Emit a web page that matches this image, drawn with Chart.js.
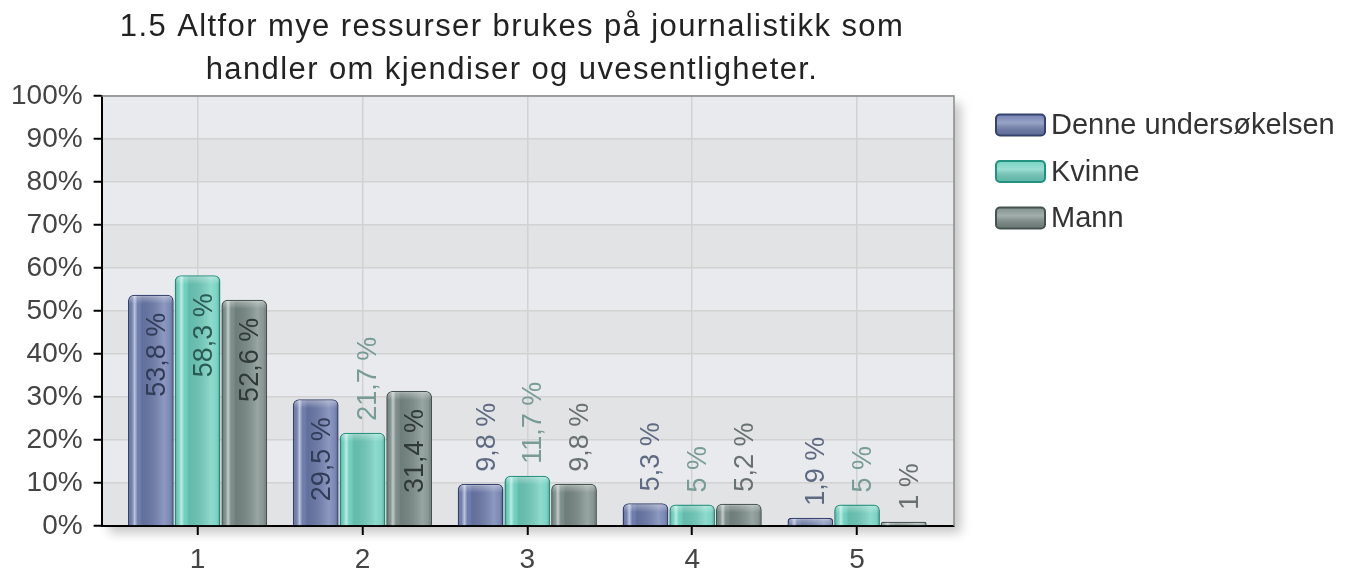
<!DOCTYPE html>
<html><head><meta charset="utf-8">
<script src="https://cdn.jsdelivr.net/npm/chart.js@4.4.1/dist/chart.umd.min.js"></script>
<style>html,body{margin:0;padding:0;background:#fff;overflow:hidden}#wrap{width:1356px;height:575px;position:relative}</style>
</head><body><div id="wrap"><canvas id="c" width="1356" height="575"></canvas></div>
<script>
// ---- data ----
const titleLines = ['1.5 Altfor mye ressurser brukes på journalistikk som', 'handler om kjendiser og uvesentligheter.'];
const categories = ['1', '2', '3', '4', '5'];
const seriesNames = ['Denne undersøkelsen', 'Kvinne', 'Mann'];
const denneUndersokelsen = [53.8, 29.5, 9.8, 5.3, 1.9];
const kvinne = [58.3, 21.7, 11.7, 5, 5];
const mann = [52.6, 31.4, 9.8, 5.2, 1];
const yTickValues = [0, 10, 20, 30, 40, 50, 60, 70, 80, 90, 100];

// ---- styles ----
const FONT = '"Liberation Sans", Arial, Helvetica, sans-serif';
const seriesStyles = [
  {fill: '#6d7cae', border: '#36426e', inside: '#303c58', outside: '#5f6a82'},
  {fill: '#6fd0bf', border: '#22917f', inside: '#2b5a53', outside: '#789b95'},
  {fill: '#7b8c88', border: '#45534f', inside: '#2f3a38', outside: '#687170'}
];
const seriesValues = [denneUndersokelsen, kvinne, mann];

const datasets = seriesNames.map((name, i) => ({
  label: name,
  data: seriesValues[i],
  backgroundColor: seriesStyles[i].fill,
  borderColor: seriesStyles[i].border,
  borderWidth: 1.5,
  borderSkipped: 'bottom',
  borderRadius: {topLeft: 6, topRight: 6, bottomLeft: 0, bottomRight: 0},
  categoryPercentage: 0.85,
  barPercentage: 0.98
}));

const plotDecor = {
  id: 'plotDecor',
  beforeDraw(chart) {
    const {ctx, chartArea: a, scales: {y}} = chart;
    ctx.save();
    ctx.shadowColor = 'rgba(0,0,0,0.22)';
    ctx.shadowBlur = 10;
    ctx.shadowOffsetX = 7;
    ctx.shadowOffsetY = 7;
    ctx.fillStyle = '#e6e8ec';
    ctx.fillRect(a.left, a.top, a.right - a.left, a.bottom - a.top);
    ctx.restore();
    ctx.save();
    for (let k = 0; k < yTickValues.length - 1; k++) {
      const y0 = y.getPixelForValue(yTickValues[k]);
      const y1 = y.getPixelForValue(yTickValues[k + 1]);
      ctx.fillStyle = (k % 2 === 0) ? '#e2e3e5' : '#e8eaee';
      ctx.fillRect(a.left, y1, a.right - a.left, y0 - y1);
    }
    ctx.restore();
  },
  beforeDatasetsDraw(chart) {
    const {ctx, chartArea: a} = chart;
    ctx.save();
    ctx.strokeStyle = '#8a8a8a';
    ctx.lineWidth = 1.5;
    ctx.beginPath();
    ctx.moveTo(a.left, a.top); ctx.lineTo(a.right, a.top); ctx.lineTo(a.right, a.bottom);
    ctx.stroke();
    ctx.restore();
  }
};

const barGloss = {
  id: 'barGloss',
  afterDatasetsDraw(chart) {
    const ctx = chart.ctx;
    chart.data.datasets.forEach((ds, di) => {
      const meta = chart.getDatasetMeta(di);
      meta.data.forEach((el) => {
        const {x, y, base, width} = el.getProps(['x', 'y', 'base', 'width'], true);
        const l = x - width / 2 + 1, r = x + width / 2 - 1, t = y + 1, b = base;
        if (b - t < 2) return;
        ctx.save();
        ctx.beginPath();
        ctx.roundRect(l, t, r - l, b - t, [5, 5, 0, 0]);
        ctx.clip();
        const g = ctx.createLinearGradient(l, 0, r, 0);
        g.addColorStop(0, 'rgba(0,0,0,0.22)');
        g.addColorStop(0.07, 'rgba(255,255,255,0.05)');
        g.addColorStop(0.13, 'rgba(255,255,255,0.55)');
        g.addColorStop(0.2, 'rgba(255,255,255,0.0)');
        g.addColorStop(0.3, 'rgba(0,0,0,0.10)');
        g.addColorStop(0.8, 'rgba(255,255,255,0.22)');
        g.addColorStop(0.93, 'rgba(255,255,255,0.1)');
        g.addColorStop(1, 'rgba(0,0,0,0.2)');
        ctx.fillStyle = g;
        ctx.fillRect(l, t, r - l, b - t);
        const gt = ctx.createLinearGradient(0, t, 0, t + 8);
        gt.addColorStop(0, 'rgba(255,255,255,0.35)');
        gt.addColorStop(1, 'rgba(255,255,255,0)');
        ctx.fillStyle = gt;
        ctx.fillRect(l, t, r - l, 8);
        ctx.restore();
      });
    });
  }
};

const barLabels = {
  id: 'barLabels',
  afterDatasetsDraw(chart) {
    const ctx = chart.ctx;
    ctx.save();
    ctx.font = '27px ' + FONT;
    chart.data.datasets.forEach((ds, di) => {
      const meta = chart.getDatasetMeta(di);
      meta.data.forEach((el, i) => {
        const {x, y, base} = el.getProps(['x', 'y', 'base'], true);
        const txt = String(ds.data[i]).replace('.', ',') + ' %';
        const w = ctx.measureText(txt).width;
        const h = base - y;
        const padIn = 18, padOut = 12;
        let start, color;
        if (h >= w + 2 * padIn) { start = y + padIn + w; color = seriesStyles[di].inside; }
        else { start = y - padOut; color = seriesStyles[di].outside; }
        ctx.save();
        ctx.translate(x + 14, start);
        ctx.rotate(-Math.PI / 2);
        ctx.fillStyle = color;
        ctx.textAlign = 'left';
        ctx.textBaseline = 'alphabetic';
        ctx.fillText(txt, 0, 0);
        ctx.restore();
      });
    });
    ctx.restore();
  }
};

const titleAndLegend = {
  id: 'titleAndLegend',
  afterDraw(chart) {
    const {ctx, chartArea: a} = chart;
    ctx.save();
    // title
    ctx.font = '31px ' + FONT;
    ctx.fillStyle = '#222';
    ctx.textAlign = 'center';
    ctx.textBaseline = 'alphabetic';
    ctx.letterSpacing = '1.4px';
    const cx = 512;
    titleLines.forEach((line, k) => ctx.fillText(line, cx, 36 + k * 43));
    ctx.letterSpacing = '0px';
    // legend
    ctx.font = '29px ' + FONT;
    ctx.textAlign = 'left';
    ctx.textBaseline = 'middle';
    const lx = a.right + 42;
    chart.data.datasets.forEach((ds, i) => {
      const cy = a.top + 29 + i * 46.5;
      const bw = 49, bh = 21;
      ctx.beginPath();
      ctx.roundRect(lx, cy - bh / 2, bw, bh, 4);
      ctx.fillStyle = seriesStyles[i].fill;
      ctx.fill();
      const g = ctx.createLinearGradient(0, cy - bh / 2, 0, cy + bh / 2);
      g.addColorStop(0, 'rgba(255,255,255,0.05)');
      g.addColorStop(0.4, 'rgba(255,255,255,0.3)');
      g.addColorStop(1, 'rgba(0,0,0,0.1)');
      ctx.fillStyle = g;
      ctx.fill();
      ctx.lineWidth = 2;
      ctx.strokeStyle = seriesStyles[i].border;
      ctx.stroke();
      ctx.fillStyle = '#333';
      ctx.fillText(ds.label, lx + bw + 6, cy + 1);
    });
    ctx.restore();
  }
};

new Chart(document.getElementById('c'), {
  type: 'bar',
  data: {labels: categories, datasets},
  options: {
    responsive: false,
    animation: false,
    devicePixelRatio: 1,
    layout: {padding: {left: 0, right: 402, top: 96, bottom: -10}},
    plugins: {legend: {display: false}, title: {display: false}, tooltip: {enabled: false}},
    scales: {
      x: {
        type: 'linear',
        min: 0.418,
        max: 5.588,
        offset: false,
        afterBuildTicks: (s) => { s.ticks = categories.map((c, i) => ({value: i + 1})); },
        ticks: {
          callback: (v) => categories[Math.round(v) - 1],
          font: {family: FONT, size: 28, lineHeight: 1.0},
          color: '#444',
          padding: 11,
          maxRotation: 0
        },
        grid: {offset: false, color: '#d2d2d2', lineWidth: 1.5, tickColor: '#000', tickWidth: 2, tickLength: 9},
        border: {display: true, color: '#000', width: 2}
      },
      y: {
        min: 0,
        max: 100,
        afterBuildTicks: (s) => { s.ticks = yTickValues.map(v => ({value: v})); },
        ticks: {
          callback: (v) => v + '%',
          font: {family: FONT, size: 28},
          color: '#444',
          padding: 11
        },
        grid: {color: '#d2d2d2', lineWidth: 1.5, tickColor: '#000', tickWidth: 2, tickLength: 8},
        border: {display: true, color: '#000', width: 2}
      }
    }
  },
  plugins: [plotDecor, barGloss, barLabels, titleAndLegend]
});
</script>
</body></html>
